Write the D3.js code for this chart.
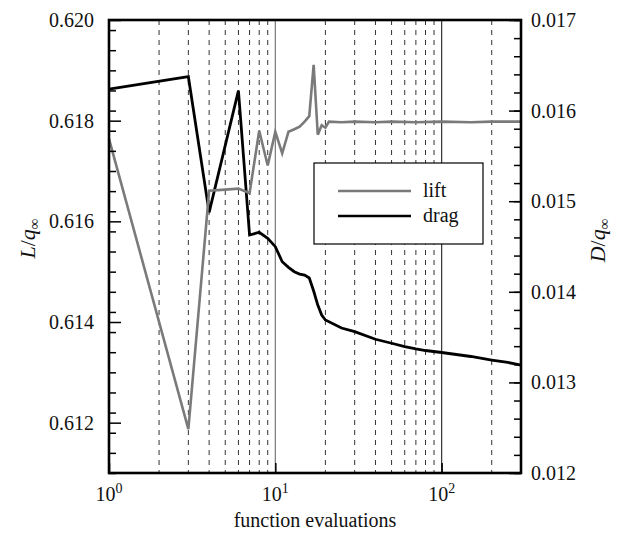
<!DOCTYPE html>
<html>
<head>
<meta charset="utf-8">
<script src="https://cdn.jsdelivr.net/npm/d3@7"></script>
<style>
    body { margin: 0; background: #fff; }
    text { font-family: "Liberation Serif", "Times New Roman", serif; fill: #111; }
</style>
</head>
<body>
<script>
// lift history (left axis)
var liftEvals = [1, 3, 4, 5, 6, 7, 8, 9, 10, 11, 12, 13, 14, 15, 16, 17, 18, 19, 20, 21,
                 25, 30, 40, 50, 70, 100, 150, 200, 300];
var liftValues = [0.61764, 0.61187, 0.61661, 0.61663, 0.61665, 0.61656, 0.61780, 0.61711,
                  0.61778, 0.61735, 0.61778, 0.61783, 0.61788, 0.61798, 0.61809, 0.61911,
                  0.61772, 0.61791, 0.61786, 0.61798, 0.61797, 0.61798, 0.61797, 0.61798,
                  0.61797, 0.61798, 0.61797, 0.61798, 0.61798];

// drag history (right axis)
var dragEvals = [1, 3, 4, 5, 6, 7, 8, 9, 10, 11, 12, 13, 14, 15, 16, 17, 18, 19, 20,
                 25, 30, 40, 50, 60, 70, 80, 100, 150, 200, 250, 300];
var dragValues = [0.016238, 0.016374, 0.014877, 0.015616, 0.016220, 0.014627, 0.014657,
                  0.014591, 0.014498, 0.014332, 0.014270, 0.014222, 0.014196, 0.014185,
                  0.014152, 0.014009, 0.013854, 0.013744, 0.013689, 0.013600, 0.013560,
                  0.013476, 0.013432, 0.013396, 0.013369, 0.013352, 0.013330, 0.013286,
                  0.013247, 0.013220, 0.013192];

// tick labels
var leftTicks = [0.612, 0.614, 0.616, 0.618, 0.620];
var rightTicks = [0.012, 0.013, 0.014, 0.015, 0.016, 0.017];
var decades = [1, 10, 100];
var gridMinor = [2, 3, 4, 5, 6, 7, 8, 9, 20, 30, 40, 50, 60, 70, 80, 90, 200];

window.onload = function() {
    makeGraph();
};

/*
 * Draw the convergence history with two y-axes.
 */
function makeGraph()
{
    var margin = {top: 20, right: 100, bottom: 62, left: 109},
        width = 621 - margin.left - margin.right,
        height = 535 - margin.top - margin.bottom,
        fontSize = 20;

    var svg = d3.select("body").append("svg")
                    .attr("width", 621)
                    .attr("height", 535)
                .append("g")
                    .attr("transform", "translate(" + margin.left + "," + margin.top + ")");

    // scales
    var scaleX = d3.scaleLog()
                    .domain([1, 300])
                    .range([0, width]);

    var scaleLeft = d3.scaleLinear()
                    .domain([0.611, 0.620])
                    .range([height, 0]);

    var scaleRight = d3.scaleLinear()
                    .domain([0.012, 0.017])
                    .range([height, 0]);

    // dashed grid lines
    svg.selectAll(".grid-minor")
        .data(gridMinor)
        .enter()
        .append("line")
            .attr("class", "grid-minor")
            .attr("x1", function(d) { return scaleX(d); })
            .attr("x2", function(d) { return scaleX(d); })
            .attr("y1", 0)
            .attr("y2", height)
            .attr("stroke", "#333")
            .attr("stroke-width", 1)
            .attr("stroke-dasharray", "5,5");

    // solid grid lines at the decades
    svg.selectAll(".grid-major")
        .data([10, 100])
        .enter()
        .append("line")
            .attr("class", "grid-major")
            .attr("x1", function(d) { return scaleX(d); })
            .attr("x2", function(d) { return scaleX(d); })
            .attr("y1", 0)
            .attr("y2", height)
            .attr("stroke", function(d) { return d == 10 ? "#777" : "#333"; })
            .attr("stroke-width", 1.2);

    // lines
    var liftLine = d3.line()
        .x(function(d, i) { return scaleX(liftEvals[i]); })
        .y(function(d) { return scaleLeft(d); });

    var dragLine = d3.line()
        .x(function(d, i) { return scaleX(dragEvals[i]); })
        .y(function(d) { return scaleRight(d); });

    svg.append("path")
        .datum(dragValues)
        .attr("fill", "none")
        .attr("stroke", "#000")
        .attr("stroke-width", 2.8)
        .attr("d", dragLine);

    svg.append("path")
        .datum(liftValues)
        .attr("fill", "none")
        .attr("stroke", "#7a7a7a")
        .attr("stroke-width", 2.6)
        .attr("d", liftLine);

    // left axis, ticks pointing inside
    var leftMinor = d3.range(0.6110, 0.62001, 0.0004);
    svg.append("g")
        .attr("class", "axis")
        .call(d3.axisRight(scaleLeft).tickValues(leftMinor).tickSize(7).tickFormat(""));
    svg.append("g")
        .attr("class", "axis")
        .call(d3.axisRight(scaleLeft).tickValues(leftTicks).tickSize(12).tickFormat(""));

    svg.selectAll(".left-label")
        .data(leftTicks)
        .enter()
        .append("text")
            .attr("class", "left-label")
            .attr("x", -15)
            .attr("y", function(d) { return scaleLeft(d); })
            .attr("dy", "0.35em")
            .style("text-anchor", "end")
            .style("font-size", fontSize + "px")
            .text(function(d) { return d3.format(".3f")(d); });

    // right axis, ticks pointing inside
    var rightMinor = d3.range(0.0120, 0.01701, 0.0002);
    svg.append("g")
        .attr("class", "axis")
        .attr("transform", "translate(" + width + ",0)")
        .call(d3.axisLeft(scaleRight).tickValues(rightMinor).tickSize(7).tickFormat(""));
    svg.append("g")
        .attr("class", "axis")
        .attr("transform", "translate(" + width + ",0)")
        .call(d3.axisLeft(scaleRight).tickValues(rightTicks).tickSize(12).tickFormat(""));

    svg.selectAll(".right-label")
        .data(rightTicks)
        .enter()
        .append("text")
            .attr("class", "right-label")
            .attr("x", width + 10)
            .attr("y", function(d) { return scaleRight(d); })
            .attr("dy", "0.35em")
            .style("text-anchor", "start")
            .style("font-size", fontSize + "px")
            .text(function(d) { return d3.format(".3f")(d); });

    // bottom axis ticks at the decades
    svg.append("g")
        .attr("class", "axis")
        .attr("transform", "translate(0," + height + ")")
        .call(d3.axisTop(scaleX).tickValues(decades).tickSize(10).tickFormat(""));

    // tick labels as powers of ten
    var xLabels = svg.selectAll(".x-label")
        .data(decades)
        .enter()
        .append("text")
            .attr("class", "x-label")
            .attr("x", function(d) { return scaleX(d); })
            .attr("y", height + 28)
            .style("text-anchor", "middle")
            .style("font-size", fontSize + "px");
    xLabels.append("tspan").text("10");
    xLabels.append("tspan")
        .attr("dy", -8)
        .style("font-size", "14px")
        .text(function(d) { return Math.round(Math.log10(d)); });

    // frame
    svg.append("rect")
        .attr("width", width)
        .attr("height", height)
        .attr("fill", "none")
        .attr("stroke", "#000")
        .attr("stroke-width", 2.6);

    svg.selectAll(".axis path").remove();
    svg.selectAll(".axis line")
        .attr("stroke", "#000")
        .attr("stroke-width", 1.5);

    // x-axis label
    svg.append("text")
        .attr("x", width / 2)
        .attr("y", height + 54)
        .style("text-anchor", "middle")
        .style("font-size", fontSize + "px")
        .text("function evaluations");

    // left y-axis label
    var leftTitle = svg.append("text")
        .attr("transform", "translate(" + (-margin.left + 35) + "," + (height / 2 - 8) + ") rotate(-90)")
        .style("text-anchor", "middle")
        .style("font-size", "22px");
    leftTitle.append("tspan").style("font-style", "italic").text("L");
    leftTitle.append("tspan").text("/");
    leftTitle.append("tspan").style("font-style", "italic").text("q");
    leftTitle.append("tspan").attr("dy", 4).style("font-size", "15px").text("∞");

    // right y-axis label
    var rightTitle = svg.append("text")
        .attr("transform", "translate(" + (width + 84) + "," + (height / 2 - 6) + ") rotate(-90)")
        .style("text-anchor", "middle")
        .style("font-size", "22px");
    rightTitle.append("tspan").style("font-style", "italic").text("D");
    rightTitle.append("tspan").text("/");
    rightTitle.append("tspan").style("font-style", "italic").text("q");
    rightTitle.append("tspan").attr("dy", 4).style("font-size", "15px").text("∞");

    // legend
    var legendData = [{name: "lift", color: "#7a7a7a"}, {name: "drag", color: "#000"}];
    var legend = svg.append("g")
        .attr("transform", "translate(205,143)");

    legend.append("rect")
        .attr("width", 169)
        .attr("height", 81)
        .attr("fill", "#fff")
        .attr("stroke", "#000")
        .attr("stroke-width", 1.2);

    var items = legend.selectAll(".legend")
        .data(legendData)
        .enter()
        .append("g")
            .attr("class", "legend")
            .attr("transform", function(d, i) { return "translate(0," + (28 + i * 25) + ")"; });

    items.append("line")
        .attr("x1", 24)
        .attr("x2", 97)
        .attr("stroke", function(d) { return d.color; })
        .attr("stroke-width", 2.6);

    items.append("text")
        .attr("x", 109)
        .attr("dy", "0.3em")
        .style("font-size", fontSize + "px")
        .text(function(d) { return d.name; });
}
</script>
</body>
</html>
